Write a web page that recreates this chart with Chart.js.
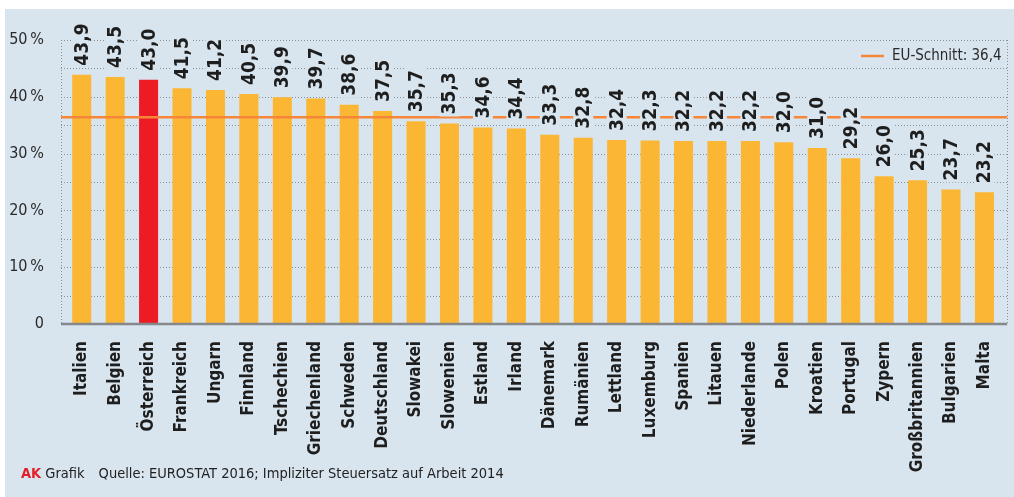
<!DOCTYPE html>
<html><head><meta charset="utf-8">
<script src="https://cdn.jsdelivr.net/npm/chart.js@4/dist/chart.umd.min.js"></script>
<style>
html,body{margin:0;padding:0;background:#fff;}
#wrap{position:relative;width:1014px;height:497px;overflow:hidden;background:#fff;}
#panel{position:absolute;left:5px;top:9px;right:0;bottom:0;background:#d9e5ee;}
#c{position:absolute;left:0;top:0;}
#foot{position:absolute;left:21px;top:465px;font:14.5px "DejaVu Sans Condensed","DejaVu Sans",sans-serif;color:#222;white-space:nowrap;}
#foot b{color:#e3202a;}
</style></head>
<body>
<div id="wrap">
<div id="panel"></div>
<canvas id="c" width="1014" height="497"></canvas>
<div id="foot"><b>AK</b> Grafik<span style="display:inline-block;width:14px"></span>Quelle: EUROSTAT 2016; Impliziter Steuersatz auf Arbeit 2014</div>
</div>
<script>
const categories = ["Italien","Belgien","Österreich","Frankreich","Ungarn","Finnland","Tschechien","Griechenland","Schweden","Deutschland","Slowakei","Slowenien","Estland","Irland","Dänemark","Rumänien","Lettland","Luxemburg","Spanien","Litauen","Niederlande","Polen","Kroatien","Portugal","Zypern","Großbritannien","Bulgarien","Malta"];
const values = [43.9,43.5,43.0,41.5,41.2,40.5,39.9,39.7,38.6,37.5,35.7,35.3,34.6,34.4,33.3,32.8,32.4,32.3,32.2,32.2,32.2,32.0,31.0,29.2,26.0,25.3,23.7,23.2];
const highlight = ["Österreich"];
const euAverage = 36.4;
const euLabel = "EU-Schnitt: 36,4";
const yTicks = [0,10,20,30,40,50];
const yGridStep = 5;

const FONT = '"DejaVu Sans Condensed","DejaVu Sans",sans-serif';
const BG = '#d9e5ee';
const BAR = '#fbb733';
const RED = '#ed1c24';
const ORANGE = '#f5863a';
const fmt = v => v.toFixed(1).replace('.', ',');

const custom = {
  id: 'custom',
  beforeDatasetsDraw(chart) {
    const {ctx, chartArea: a, scales: {y}} = chart;
    const L = a.left - 4, R = a.right + 6;
    ctx.save();
    ctx.strokeStyle = '#8a9096';
    ctx.lineWidth = 1;
    ctx.setLineDash([1, 2]);
    for (let v = y.min; v <= y.max; v += yGridStep) {
      const py = Math.round(y.getPixelForValue(v)) + 0.5;
      ctx.beginPath(); ctx.moveTo(L, py); ctx.lineTo(R, py); ctx.stroke();
    }
    const t = Math.round(y.getPixelForValue(y.max)), b = Math.round(y.getPixelForValue(0));
    [L, R].forEach(x => {
      ctx.beginPath(); ctx.moveTo(Math.round(x) + 0.5, t); ctx.lineTo(Math.round(x) + 0.5, b); ctx.stroke();
    });
    ctx.restore();
  },
  afterDatasetsDraw(chart) {
    const {ctx, chartArea: a, scales: {y}} = chart;
    const L = a.left - 4, R = a.right + 6;
    ctx.save();
    // x axis line
    const zy = y.getPixelForValue(0);
    ctx.strokeStyle = '#85898d'; ctx.lineWidth = 2.5;
    ctx.beginPath(); ctx.moveTo(L, zy); ctx.lineTo(R, zy); ctx.stroke();
    // EU average line
    const ey = y.getPixelForValue(euAverage);
    ctx.strokeStyle = ORANGE; ctx.lineWidth = 2.5;
    ctx.beginPath(); ctx.moveTo(L, ey); ctx.lineTo(R, ey); ctx.stroke();
    // value labels
    const meta = chart.getDatasetMeta(0);
    ctx.font = 'bold 19px ' + FONT;
    meta.data.forEach((bar, i) => {
      const txt = fmt(values[i]);
      const w = ctx.measureText(txt).width;
      ctx.save();
      ctx.translate(bar.x, bar.y - 9);
      ctx.rotate(-Math.PI / 2);
      ctx.fillStyle = BG;
      ctx.fillRect(-2, -10, w + 4, 20);
      ctx.fillStyle = '#1e1e1e';
      ctx.textAlign = 'left'; ctx.textBaseline = 'middle';
      ctx.fillText(txt, 0, 1);
      ctx.restore();
    });
    // legend
    ctx.strokeStyle = ORANGE; ctx.lineWidth = 2.5;
    ctx.beginPath(); ctx.moveTo(861, 56); ctx.lineTo(884, 56); ctx.stroke();
    ctx.fillStyle = '#2a2a2a';
    ctx.font = '15px ' + FONT;
    ctx.textAlign = 'left'; ctx.textBaseline = 'middle';
    ctx.fillText(euLabel, 892, 56);
    ctx.restore();
  }
};

new Chart(document.getElementById('c'), {
  type: 'bar',
  data: {
    labels: categories,
    datasets: [{
      data: values,
      backgroundColor: categories.map(c => highlight.includes(c) ? RED : BAR),
      borderWidth: 0,
      categoryPercentage: 1,
      barPercentage: 0.57
    }]
  },
  options: {
    responsive: false,
    animation: false,
    devicePixelRatio: 1,
    layout: {padding: {top: 40, right: 9, left: 0, bottom: 0}},
    plugins: {legend: {display: false}, tooltip: {enabled: false}},
    scales: {
      x: {
        grid: {display: false},
        border: {display: false},
        ticks: {
          autoSkip: false, maxRotation: 90, minRotation: 90, padding: 9,
          color: '#1e1e1e', font: {family: FONT, size: 17, weight: 'bold'}
        },
        afterFit(s) { s.height = 173; }
      },
      y: {
        min: 0, max: 50,
        grid: {display: false},
        border: {display: false},
        ticks: {
          stepSize: yGridStep, padding: 13, color: '#2a2a2a',
          font: {family: FONT, size: 16},
          callback: v => yTicks.includes(v) ? (v === 0 ? '0' : v + '\u2009%') : ''
        },
        afterFit(s) { s.width = 65; }
      }
    }
  },
  plugins: [custom]
});
</script>
</body></html>
